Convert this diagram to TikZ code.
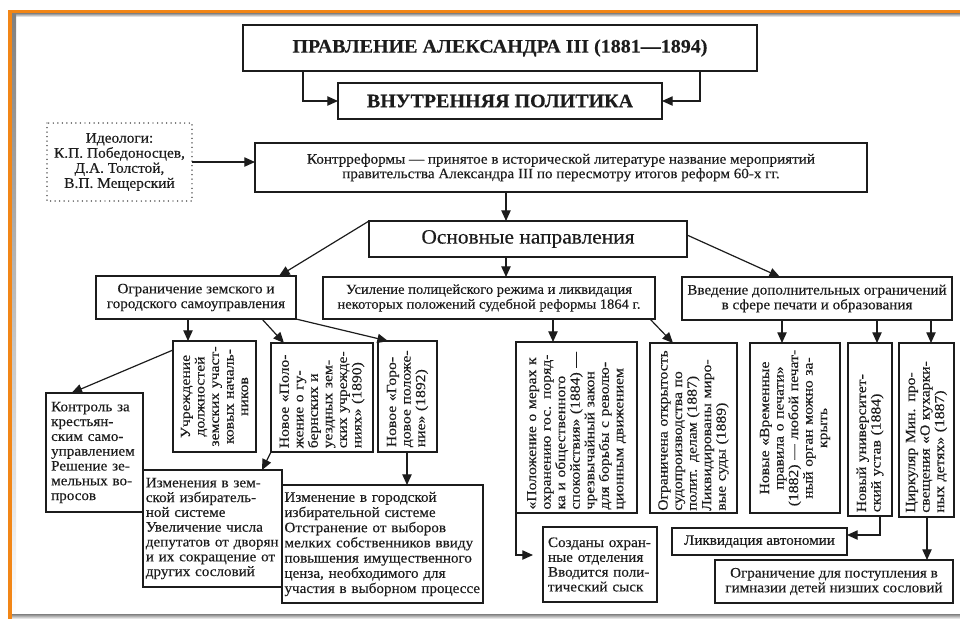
\documentclass[tikz,border=0pt]{standalone}
\usepackage{fontspec}
\setmainfont{Liberation Serif}[FakeStretch=1.05, FakeBold=0.3]
\newfontfamily\vfont{Liberation Serif}[FakeStretch=1.13, FakeBold=0.3]
\usetikzlibrary{arrows.meta,calc}
\definecolor{frameorange}{RGB}{242,134,22}
\definecolor{shade}{RGB}{188,188,188}
\definecolor{ink}{RGB}{28,28,28}
\newcommand{\mkbox}[7][]{%
  \pgfmathsetmacro\bxw{(#5-#3)*0.75}%
  \pgfmathsetmacro\bxh{(#6-#4)*0.75}%
  \node[bx, minimum width=\bxw pt, minimum height=\bxh pt, #1] (#2) at ({(#3+#5)/2},{(#4+#6)/2}) {#7};%
}
\begin{document}
\begin{tikzpicture}[x=0.75pt,y=-0.75pt,
  bx/.style={draw=ink, line width=0.9pt, inner sep=0pt, outer sep=0pt, text=ink, font=\fontsize{10.8}{11.1}\selectfont},
  vtxt/.style={font=\vfont\fontsize{10.4}{10.9}\selectfont, text=ink, inner sep=0pt, rotate=90},
  arr/.style={draw=ink, line width=0.9pt, -{Triangle[length=8pt,width=7pt]}},
  ln/.style={draw=ink, line width=0.9pt}]
\useasboundingbox (0,0) rectangle (960,619);
% frame
\fill[shade] (12,13) rectangle (960,17);
\fill[shade] (12,13) rectangle (16,619);
\fill[shade] (12,614) rectangle (960,619);
\fill[frameorange] (8,9.5) rectangle (960,13);
\fill[frameorange] (8,9.5) rectangle (12,619);

% x positions
\coordinate (xL) at (303,0);
\coordinate (xR) at (700,0);
\coordinate (xm) at (506,0);
\coordinate (x279) at (279,0);
\coordinate (x780) at (780,0);
\coordinate (x188) at (188,0);
\coordinate (x262) at (262,0);
\coordinate (x284) at (284,0);
\coordinate (x388) at (388,0);
\coordinate (x407) at (407,0);
\coordinate (x553) at (553,0);
\coordinate (x650) at (650,0);
\coordinate (x673) at (673,0);
\coordinate (x782) at (782,0);
\coordinate (x877) at (877,0);
\coordinate (x880) at (880,0);
\coordinate (x931) at (931,0);
\coordinate (x927) at (927,0);

% boxes
\mkbox[font=\bfseries\fontsize{14.3}{17}\selectfont]{title}{243}{25}{757}{71}{ПРАВЛЕНИЕ АЛЕКСАНДРА III (1881—1894)}
\mkbox[font=\bfseries\fontsize{14.3}{17}\selectfont]{vp}{338}{83}{662}{119}{ВНУТРЕННЯЯ ПОЛИТИКА}
\mkbox[draw=none, align=center, font=\fontsize{11}{11.3}\selectfont]{ideo}{47}{123}{192}{201}{Идеологи:\\К.П. Победоносцев,\\Д.А. Толстой,\\В.П. Мещерский}
\draw[ink, line width=1.1pt, line cap=round, dash pattern=on 0pt off 3.4pt] (ideo.north west) rectangle (ideo.south east);
\mkbox[align=center, font=\fontsize{10.8}{10.9}\selectfont]{kontr}{255}{143}{867}{192}{Контрреформы — принятое в исторической литературе название мероприятий\\правительства Александра III по пересмотру итогов реформ 60-х гг.}
\mkbox[font=\fontsize{15.3}{18}\selectfont]{osn}{369}{221}{687}{257}{Основные направления}
\mkbox[align=center]{ogr}{96}{276}{296}{319}{Ограничение земского и\\городского самоуправления}
\mkbox[align=center, font=\fontsize{10.4}{11.1}\selectfont]{usil}{323}{277}{655}{319}{Усиление полицейского режима и ликвидация\\некоторых положений судебной реформы 1864 г.}
\mkbox[align=center]{vved}{682}{277}{952}{320}{Введение дополнительных ограничений\\в сфере печати и образования}

% vertical boxes
\mkbox{uch}{173}{341}{256}{452}{}
\node[vtxt, text width=78pt, align=center] (uch-t) at (uch) {Учреждение\\должностей\\земских участ-\\ковых началь-\\ников};
\mkbox{polz}{271}{343}{373}{452}{}
\node[vtxt, text width=76pt, align=left] (polz-t) at (polz) {Новое «Поло-\\жение о гу-\\бернских и\\уездных зем-\\ских учрежде-\\ниях» (1890)};
\mkbox{gor}{378}{341}{437}{452}{}
\node[vtxt, text width=76pt, align=left] (gor-t) at (gor) {Новое «Горо-\\довое положе-\\ние» (1892)};
\mkbox{polo}{516}{342}{637}{513}{}
\node[vtxt, text width=123pt, align=left] (polo-t) at (polo) {«Положение о мерах к\\охранению гос. поряд-\\ка и общественного\\спокойствия» (1884) —\\чрезвычайный закон\\для борьбы с револю-\\ционным движением};
\mkbox{ogrn}{650}{343}{737}{513}{}
\node[vtxt, text width=124pt, align=left] (ogrn-t) at (ogrn) {Ограничена~открытость\\судопроизводства по\\полит. делам (1887)\\Ликвидированы миро-\\вые суды (1889)};
\mkbox{vrem}{750}{343}{840}{513}{}
\node[vtxt, text width=122pt, align=center] (vrem-t) at (vrem) {Новые «Временные\\правила о печати»\\(1882) — любой печат-\\ный орган можно за-\\крыть};
\mkbox{univ}{848}{343}{892}{516}{}
\node[vtxt, text width=124pt, align=left] (univ-t) at (univ) {Новый университет-\\ский устав (1884)};
\mkbox{tsirk}{899}{343}{954}{517}{}
\node[vtxt, text width=124pt, align=left] (tsirk-t) at (tsirk) {Циркуляр Мин. про-\\свещения «О кухарки-\\ных детях» (1887)};

% lower horizontal boxes
\mkbox[align=left, text width=65pt]{kontrol}{46}{393}{143}{512}{Контроль за\\крестьян-\\ским само-\\управлением\\Решение зе-\\мельных во-\\просов}
\mkbox[align=left, text width=100pt]{izm}{143}{470}{282}{587}{Изменения в зем-\\ской избиратель-\\ной системе\\Увеличение числа\\депутатов от дворян\\и их сокращение от\\других сословий}
\mkbox[align=left, text width=147pt, font=\fontsize{10.8}{11.4}\selectfont]{izmg}{282}{485}{483}{603}{Изменение в городской\\избирательной системе\\Отстранение от выборов\\мелких собственников ввиду\\повышения имущественного\\ценза, необходимого для\\участия в выборном процессе}
\mkbox[align=left, text width=78pt]{sozd}{543}{527}{657}{602}{Созданы охран-\\ные отделения\\Вводится поли-\\тический сыск}
\mkbox{likv}{672}{528}{847}{555}{Ликвидация автономии}
\mkbox[align=center]{ogrg}{715}{560}{953}{603}{Ограничение для поступления в\\гимназии детей низших сословий}

% connectors
\draw[arr] (title.south -| xL) |- (vp.west);
\draw[arr] (title.south -| xR) |- (vp.east);
\draw[arr] (ideo.east) -- (kontr.west |- ideo.east);
\draw[arr] (kontr.south -| xm) -- (osn.north -| xm);
\draw[arr] (osn.north west) -- (ogr.north -| x279);
\draw[arr] (osn.south -| xm) -- (usil.north -| xm);
\draw[arr] ($(osn.north east)+(0,14)$) -- (vved.north -| x780);
\draw[arr] (ogr.south -| x188) -- (uch.north -| x188);
\draw[arr] (ogr.south -| x262) -- (polz.north -| x284);
\draw[arr] (ogr.south east) -- (gor.north -| x388);
\draw[arr] ($(uch.north west)+(0,9)$) -- ($(kontrol.north)+(-23,0)$);
\draw[arr] (polz.south west) -- (izm.north -| x262);
\draw[arr] (gor.south -| x407) -- (izmg.north -| x407);
\draw[arr] (usil.south -| x553) -- (polo.north -| x553);
\draw[arr] (usil.south -| x650) -- (ogrn.north -| x673);
\draw[arr] (polo.south west) |- ($(sozd.north west)+(-10,28)$);
\draw[arr] (vved.south -| x782) -- (vrem.north -| x782);
\draw[arr] (vved.south -| x877) -- (univ.north -| x877);
\draw[arr] (vved.south -| x931) -- (tsirk.north -| x931);
\draw[arr] (univ.south -| x880) |- ($(likv.north east)+(0,7)$);
\draw[arr] (tsirk.south -| x927) -- (ogrg.north -| x927);
\end{tikzpicture}
\end{document}
